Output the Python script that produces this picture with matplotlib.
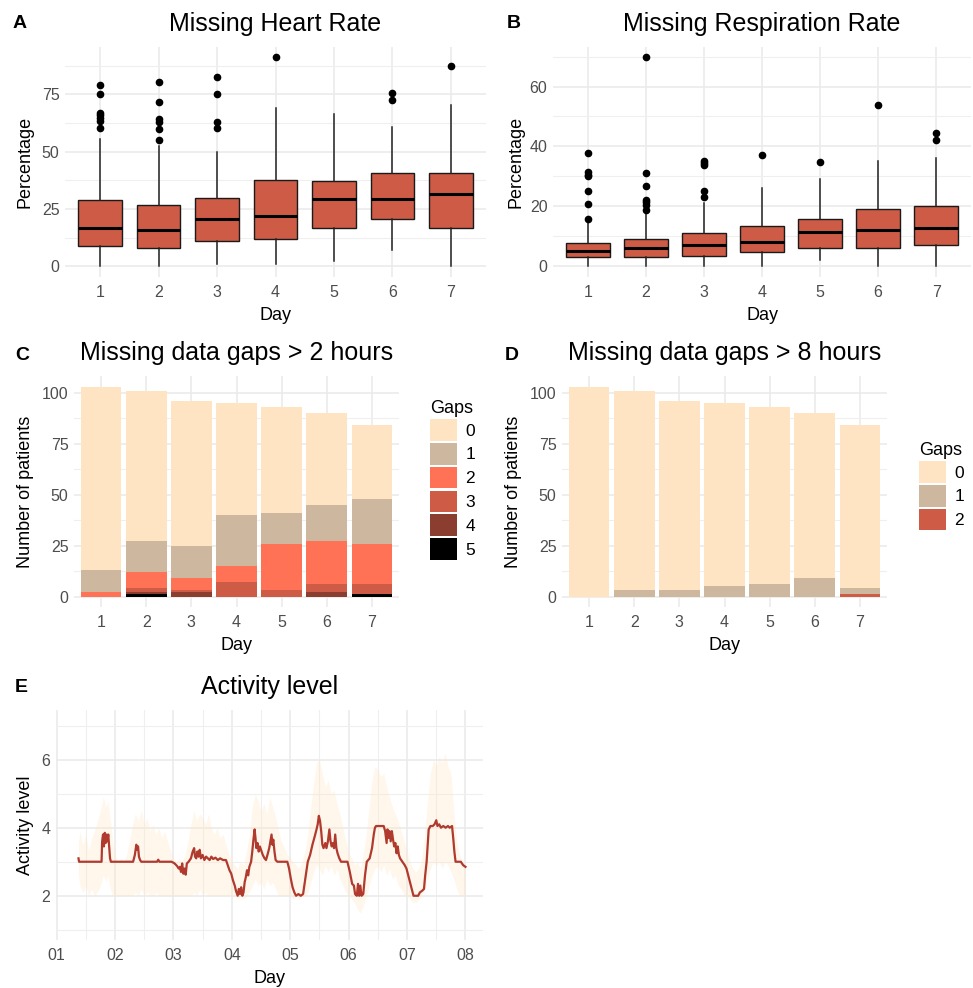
import numpy as np
import matplotlib
matplotlib.use('Agg')
import matplotlib.pyplot as plt
from matplotlib.patches import Patch

plt.rcParams['font.family'] = ['Liberation Sans', 'DejaVu Sans']

#=======================================================
# Data
#=======================================================

days = [1, 2, 3, 4, 5, 6, 7]

# A: missing heart rate, box statistics (%)
hr_q1  = [9.0, 8.0, 10.9, 11.8, 16.7, 20.5, 16.7]
hr_med = [16.5, 15.6, 20.4, 22.1, 29.3, 29.3, 31.6]
hr_q3  = [29.0, 26.8, 30.0, 37.7, 37.3, 40.5, 40.5]
hr_lo  = [0.0, 0.0, 1.0, 1.0, 2.2, 7.3, 0.0]
hr_hi  = [55.6, 52.4, 50.0, 69.0, 66.5, 60.7, 70.5]
hr_out = [[79.0, 75.3, 67.0, 65.8, 64.8, 63.6, 60.4],
          [80.4, 71.5, 64.2, 62.9, 60.0, 54.9],
          [82.6, 75.1, 62.8, 60.4],
          [91.3],
          [],
          [75.6, 72.4],
          [87.4]]

# B: missing respiration rate, box statistics (%)
rr_q1  = [3.0, 3.0, 3.5, 4.7, 6.0, 6.0, 7.2]
rr_med = [5.2, 6.0, 7.2, 8.1, 11.5, 12.1, 12.7]
rr_q3  = [7.8, 9.0, 11.2, 13.3, 15.8, 19.2, 20.0]
rr_lo  = [0.0, 0.0, 0.0, 0.0, 2.1, 0.0, 0.0]
rr_hi  = [14.7, 18.0, 21.2, 26.0, 29.0, 35.0, 36.2]
rr_out = [[37.7, 31.4, 30.6, 30.0, 25.0, 20.8, 15.8],
          [69.8, 31.0, 26.7, 22.2, 21.4, 20.6, 18.8],
          [35.0, 34.4, 33.9, 25.0, 23.0],
          [37.0],
          [34.7],
          [53.8],
          [44.4, 42.0]]

# C: gaps > 2 hours, patients per number of gaps
gap_lab2 = ['0', '1', '2', '3', '4', '5']
gap2_0 = [90, 74, 71, 55, 52, 45, 36]
gap2_1 = [11, 15, 16, 25, 15, 18, 22]
gap2_2 = [2, 8, 6, 8, 23, 21, 20]
gap2_3 = [0, 2, 1, 7, 3, 4, 5]
gap2_4 = [0, 1, 2, 0, 0, 2, 0]
gap2_5 = [0, 1, 0, 0, 0, 0, 1]

# D: gaps > 8 hours
gap_lab8 = ['0', '1', '2']
gap8_0 = [103, 98, 93, 90, 87, 81, 80]
gap8_1 = [0, 3, 3, 5, 6, 9, 3]
gap8_2 = [0, 0, 0, 0, 0, 0, 1]

# E: activity level, median line
act_day = [1.375, 1.385, 1.77, 1.78, 1.795, 1.81, 1.825, 1.84, 1.855, 1.87, 1.885, 1.90, 1.915, 1.93,
           2.31, 2.34, 2.365, 2.38, 2.395, 2.41, 2.43, 2.45, 2.72, 2.74, 2.76, 2.97,
           3.02, 3.06, 3.09, 3.11, 3.13, 3.15, 3.17, 3.19, 3.21, 3.23, 3.26, 3.30, 3.33, 3.355,
           3.37, 3.39, 3.41, 3.43, 3.45, 3.47, 3.50, 3.53, 3.56, 3.59, 3.62, 3.65, 3.68, 3.72,
           3.76, 3.80, 3.85, 3.90,
           3.93, 3.96, 3.99, 4.02, 4.05, 4.07, 4.10, 4.12, 4.14, 4.16, 4.18, 4.20, 4.22, 4.24,
           4.26, 4.28, 4.30, 4.33, 4.35, 4.37, 4.39, 4.405, 4.42, 4.44, 4.46, 4.48, 4.50, 4.53,
           4.56, 4.585, 4.61, 4.64, 4.66, 4.68, 4.695, 4.71, 4.73, 4.75, 4.78, 4.95, 4.98, 5.01,
           5.04, 5.07, 5.10, 5.14, 5.18, 5.22, 5.25, 5.27, 5.30, 5.34, 5.38, 5.42, 5.45, 5.47,
           5.49, 5.51, 5.53, 5.55, 5.57, 5.60, 5.62, 5.645, 5.67, 5.69, 5.71, 5.73, 5.75, 5.77,
           5.79, 5.81, 5.84, 5.87,
           5.98, 6.02, 6.06, 6.09, 6.11, 6.14, 6.16, 6.18, 6.20, 6.22, 6.25, 6.28, 6.31, 6.36,
           6.40, 6.43, 6.45, 6.47, 6.60, 6.625, 6.65, 6.665, 6.68, 6.70, 6.72, 6.74, 6.76, 6.78,
           6.80, 6.82, 6.84, 6.86, 6.88, 6.92, 6.96, 6.99, 7.02, 7.05, 7.08, 7.11, 7.19, 7.22,
           7.26, 7.29, 7.31, 7.335, 7.35, 7.37, 7.40, 7.44, 7.47, 7.50, 7.52, 7.55, 7.58, 7.62,
           7.66, 7.70, 7.73, 7.77, 7.79, 7.81, 7.83, 7.92, 7.96, 8.00]
act_val = [3.1, 3.0, 3.0, 3.6, 3.8, 3.45, 3.85, 3.55, 3.8, 3.6, 3.8, 3.45, 3.1, 3.0,
           3.0, 3.2, 3.5, 3.35, 3.45, 3.15, 3.05, 3.0, 3.0, 3.06, 3.0, 3.0,
           2.95, 2.88, 2.8, 2.85, 2.7, 2.95, 2.65, 2.8, 2.62, 2.95, 3.0, 3.1, 3.3, 3.4,
           3.15, 3.1, 3.3, 3.15, 3.35, 3.1, 3.2, 3.05, 3.15, 3.1, 3.05, 3.15, 3.08, 3.12,
           3.05, 3.1, 3.05, 3.05,
           2.9, 2.75, 2.65, 2.45, 2.3, 2.15, 2.0, 2.2, 2.05, 2.25, 2.0, 2.1, 2.4, 2.55,
           2.75, 2.6, 2.85, 3.0, 3.3, 3.65, 3.95, 3.7, 3.4, 3.55, 3.3, 3.45, 3.35, 3.2,
           3.1, 3.05, 3.2, 3.4, 3.6, 3.8, 3.5, 3.65, 3.3, 3.05, 3.0, 3.0, 2.8, 2.5,
           2.25, 2.1, 2.0, 2.05, 2.0, 2.05, 2.4, 2.65, 3.0, 3.2, 3.5, 3.75, 3.95, 4.1,
           4.35, 4.2, 3.9, 3.5, 3.4, 3.55, 3.4, 3.6, 3.95, 3.6, 3.45, 3.55, 3.4, 3.8,
           3.4, 3.25, 3.1, 3.0,
           3.0, 2.7, 2.35, 2.3, 2.05, 2.0, 2.35, 2.0, 2.3, 2.0, 2.05, 2.6, 3.0, 3.1,
           3.4, 3.8, 4.0, 4.05, 4.05, 3.9, 3.55, 3.95, 3.7, 3.9, 3.6, 3.9, 3.65, 3.45,
           3.55, 3.25, 3.45, 3.2, 3.1, 3.0, 2.9, 2.8, 2.6, 2.4, 2.2, 2.0, 2.0, 2.1,
           2.15, 2.2, 2.6, 3.0, 3.4, 3.95, 4.05, 4.05, 4.1, 4.22, 4.05, 4.1, 4.0, 4.05,
           4.0, 4.05, 4.0, 4.05, 3.7, 3.3, 3.0, 3.0, 2.9, 2.85]

# E: activity level, spread band
rib_day = [1.375, 1.40, 1.45, 1.50, 1.55, 1.60, 1.65, 1.70, 1.75, 1.80, 1.85, 1.88, 1.92, 1.96,
           2.00, 2.05, 2.10, 2.15, 2.20, 2.25, 2.30, 2.35, 2.40, 2.45, 2.50, 2.55, 2.60, 2.65,
           2.70, 2.75, 2.80, 2.85, 2.90, 2.95, 3.00, 3.05, 3.10, 3.15, 3.20, 3.25, 3.30, 3.35,
           3.40, 3.45, 3.50, 3.55, 3.60, 3.65, 3.70, 3.75, 3.80, 3.85, 3.90, 3.95, 4.00, 4.05,
           4.10, 4.15, 4.20, 4.25, 4.30, 4.35, 4.40, 4.45, 4.50, 4.55, 4.60, 4.65, 4.70, 4.75,
           4.80, 4.85, 4.90, 4.95, 5.00, 5.05, 5.10, 5.15, 5.20, 5.25, 5.30, 5.35, 5.40, 5.45,
           5.50, 5.55, 5.60, 5.65, 5.70, 5.75, 5.80, 5.85, 5.90, 5.95, 6.00, 6.05, 6.10, 6.15,
           6.20, 6.25, 6.30, 6.35, 6.40, 6.45, 6.50, 6.55, 6.60, 6.65, 6.70, 6.75, 6.80, 6.85,
           6.90, 6.95, 7.00, 7.05, 7.10, 7.15, 7.20, 7.25, 7.30, 7.35, 7.40, 7.45, 7.50, 7.55,
           7.60, 7.65, 7.70, 7.75, 7.80, 7.85, 7.90, 7.95, 8.00]
rib_hi = [3.6, 3.9, 3.5, 3.8, 3.3, 3.7, 3.9, 4.2, 4.5, 4.9, 4.6, 4.8, 4.2, 3.6,
          3.2, 3.0, 3.1, 3.0, 3.2, 3.6, 4.1, 4.4, 4.2, 4.5, 4.1, 4.3, 3.9, 4.1,
          3.8, 4.0, 3.7, 3.9, 3.6, 3.3, 3.1, 3.0, 3.1, 3.0, 3.2, 3.6, 4.1, 4.5,
          4.2, 4.4, 4.3, 4.1, 4.4, 4.0, 3.8, 4.0, 3.7, 3.8, 3.5, 3.2, 3.0, 2.9,
          2.8, 3.0, 2.9, 3.3, 3.8, 4.6, 5.0, 4.8, 4.5, 4.7, 4.4, 4.9, 4.6, 4.3,
          3.9, 3.6, 3.4, 3.2, 3.1, 3.0, 2.9, 2.8, 3.0, 3.3, 3.8, 4.6, 5.3, 5.9,
          6.0, 5.6, 5.2, 5.4, 5.0, 5.1, 4.7, 4.4, 4.0, 3.6, 3.3, 3.1, 2.9, 3.0,
          2.8, 3.2, 3.8, 4.6, 5.4, 5.8, 5.7, 5.5, 5.6, 5.2, 4.9, 4.6, 4.4, 4.2,
          3.9, 3.6, 3.3, 3.0, 2.8, 2.7, 2.8, 3.1, 3.8, 4.8, 5.6, 6.0, 5.8, 6.1,
          5.9, 6.2, 5.8, 5.6, 4.5, 3.6, 3.2, 3.0, 2.9]
rib_lo = [2.6, 2.3, 2.1, 2.3, 2.0, 2.2, 2.0, 2.1, 2.3, 2.6, 2.4, 2.6, 2.2, 2.0,
          2.0, 2.0, 2.0, 2.0, 2.0, 2.0, 2.0, 2.1, 2.0, 2.2, 2.0, 2.1, 2.0, 2.0,
          2.1, 2.0, 2.0, 2.0, 2.0, 2.0, 2.0, 2.0, 2.0, 2.0, 2.0, 2.0, 2.0, 2.1,
          2.0, 2.2, 2.0, 2.1, 2.0, 2.0, 2.0, 2.0, 2.0, 2.0, 2.0, 2.0, 2.0, 2.0,
          1.9, 2.0, 1.9, 2.0, 2.1, 2.3, 2.5, 2.3, 2.4, 2.2, 2.5, 2.3, 2.4, 2.2,
          2.0, 2.0, 2.0, 2.0, 2.0, 1.9, 2.0, 1.9, 2.0, 2.0, 2.1, 2.4, 2.7, 2.9,
          2.8, 2.6, 2.9, 2.7, 2.9, 2.6, 2.8, 2.5, 2.3, 2.1, 2.0, 1.9, 1.8, 1.6,
          1.5, 1.7, 2.0, 2.3, 2.6, 2.8, 2.9, 2.7, 2.9, 2.6, 2.8, 2.5, 2.6, 2.3,
          2.2, 2.0, 2.0, 1.9, 1.8, 1.8, 1.9, 2.0, 2.2, 2.5, 2.8, 3.0, 2.9, 3.0,
          2.8, 3.0, 2.9, 2.7, 2.5, 2.2, 2.0, 2.0, 2.0]

act_ticks = ['01', '02', '03', '04', '05', '06', '07', '08']

#=======================================================
# Style
#=======================================================

W, H = 973, 988
box_col  = '#CD5B45'
line_col = '#B03A2E'
gap2_cols = ['#FFE4C4', '#CDB79E', '#FF7256', '#CD5B45', '#8B3E2F', '#000000']
gap8_cols = ['#FFE4C4', '#CDB79E', '#CD5B45']

def px_axes(fig, x0, y0, x1, y1):
    return fig.add_axes([x0/W, 1 - y1/H, (x1 - x0)/W, (y1 - y0)/H])

def style(ax):
    for s in ax.spines.values():
        s.set_visible(False)
    ax.tick_params(which='both', length=0, labelsize=11.5, labelcolor='#4D4D4D')
    ax.tick_params(axis='x', pad=6)
    ax.tick_params(axis='y', pad=4)
    ax.grid(which='major', color='#EBEBEB', lw=1.2)
    ax.grid(which='minor', color='#EFEFEF', lw=0.8)
    ax.set_axisbelow(True)

def labels(ax, title, ylab, ylx):
    pos = ax.get_position()
    fig.text(pos.x0 + pos.width/2, pos.y1 + 23/H, title, ha='center', va='center', fontsize=18)
    ax.set_xlabel('Day', fontsize=13)
    ax.set_ylabel(ylab, fontsize=13)
    ax.yaxis.set_label_coords(ylx, 0.5)
    ax.xaxis.set_label_coords(0.5, -0.13)

def box_panel(ax, q1, med, q3, lo, hi, out):
    stats = []
    for i in range(len(days)):
        stats.append(dict(q1=q1[i], med=med[i], q3=q3[i], whislo=lo[i], whishi=hi[i], fliers=out[i]))
    ax.bxp(stats, positions=days, widths=0.75, patch_artist=True, showcaps=False,
           boxprops=dict(facecolor=box_col, edgecolor='#1A1A1A', lw=1.0),
           medianprops=dict(color='black', lw=2.2),
           whiskerprops=dict(color='#222222', lw=1.1),
           flierprops=dict(marker='o', markerfacecolor='black', markeredgecolor='black', markersize=4.5))
    ax.set_xlim(0.4, 7.6)
    ax.set_xticks(days)
    ax.set_xticklabels([str(d) for d in days])

def stack_panel(ax, series, cols):
    bottom = np.zeros(len(days))
    for vals, c in reversed(list(zip(series, cols))):
        ax.bar(days, vals, width=0.9, bottom=bottom, color=c, lw=0)
        bottom += np.array(vals)
    ax.set_xlim(0.4, 7.6)
    ax.set_ylim(-5.15, 108.2)
    ax.set_xticks(days)
    ax.set_yticks([0, 25, 50, 75, 100])
    ax.set_yticks([12.5, 37.5, 62.5, 87.5], minor=True)

def gap_legend(cols, labs, x, y):
    fig.legend([Patch(facecolor=c, edgecolor='none') for c in cols], labs, title='Gaps',
               loc='upper left', bbox_to_anchor=(x/W, 1 - y/H), frameon=False, fontsize=12.5,
               title_fontsize=13, handlelength=1.55, handleheight=1.55, labelspacing=0.12,
               handletextpad=0.5, borderpad=0, borderaxespad=0, alignment='left')

fig = plt.figure(figsize=(W/100, H/100), dpi=100)

#=======================================================
# A, B
#=======================================================

axA = px_axes(fig, 65, 47, 486, 277)
style(axA)
box_panel(axA, hr_q1, hr_med, hr_q3, hr_lo, hr_hi, hr_out)
axA.set_ylim(-4.7, 95.7)
axA.set_yticks([0, 25, 50, 75])
axA.set_yticks([12.5, 37.5, 62.5, 87.5], minor=True)
labels(axA, 'Missing Heart Rate', 'Percentage', -0.074)

axB = px_axes(fig, 553, 47, 971, 277)
style(axB)
box_panel(axB, rr_q1, rr_med, rr_q3, rr_lo, rr_hi, rr_out)
axB.set_ylim(-3.6, 73.2)
axB.set_yticks([0, 20, 40, 60])
axB.set_yticks([10, 30, 50, 70], minor=True)
labels(axB, 'Missing Respiration Rate', 'Percentage', -0.069)

#=======================================================
# C, D
#=======================================================

axC = px_axes(fig, 74, 376, 399, 607)
style(axC)
stack_panel(axC, [gap2_0, gap2_1, gap2_2, gap2_3, gap2_4, gap2_5], gap2_cols)
labels(axC, 'Missing data gaps > 2 hours', 'Number of patients', -0.123)
gap_legend(gap2_cols, gap_lab2, 430, 400)

axD = px_axes(fig, 562, 376, 887, 607)
style(axD)
stack_panel(axD, [gap8_0, gap8_1, gap8_2], gap8_cols)
labels(axD, 'Missing data gaps > 8 hours', 'Number of patients', -0.123)
gap_legend(gap8_cols, gap_lab8, 919, 442)

#=======================================================
# E
#=======================================================

axE = px_axes(fig, 56, 710, 483, 940)
style(axE)
axE.fill_between(rib_day, rib_lo, rib_hi, color='#FFE4C4', alpha=0.32, lw=0)
axE.plot(act_day, act_val, color=line_col, lw=1.6)
axE.set_xlim(0.99, 8.3)
axE.set_ylim(0.7, 7.46)
axE.set_xticks(range(1, 9))
axE.set_xticklabels(act_ticks)
axE.set_xticks(np.arange(1.5, 8.0, 1.0), minor=True)
axE.set_yticks([2, 4, 6])
axE.set_yticks([1, 3, 5, 7], minor=True)
labels(axE, 'Activity level', 'Activity level', -0.052)

# panel letters
for letter, x, y in [('A', 13, 24), ('B', 507, 24), ('C', 15, 355), ('D', 505, 355), ('E', 15, 687)]:
    fig.text(x/W, 1 - y/H, letter, fontsize=14, fontweight='bold', va='center', ha='left')

fig.savefig('out.png', dpi=100)
